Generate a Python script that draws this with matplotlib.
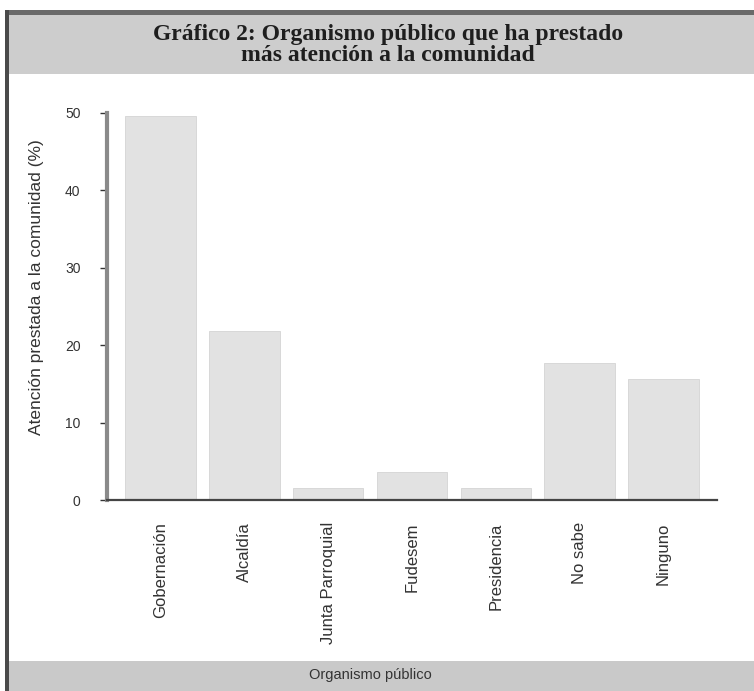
import matplotlib
matplotlib.use("Agg")
import matplotlib.pyplot as plt
from matplotlib.patches import Rectangle

categorias = ["Gobernación", "Alcaldía", "Junta Parroquial", "Fudesem",
              "Presidencia", "No sabe", "Ninguno"]
porcentajes = [49.6, 21.8, 1.5, 3.6, 1.5, 17.7, 15.6]
yticks = [0, 10, 20, 30, 40, 50]

W, H = 754, 691
fig = plt.figure(figsize=(W / 100, H / 100), dpi=100)
fig.patch.set_facecolor("white")


def px_rect(x0, y0, x1, y1, color):
    # rectángulo en píxeles (origen arriba a la izquierda)
    fig.patches.append(Rectangle((x0 / W, 1 - y1 / H), (x1 - x0) / W, (y1 - y0) / H,
                                 transform=fig.transFigure, facecolor=color,
                                 edgecolor="none", zorder=0))


# marco y bandas grises
px_rect(6, 15, W, 74, "#cdcdcd")
px_rect(6, 661, W, H, "#c9c9c9")
px_rect(5, 10, W, 15, "#6a6a6a")
px_rect(5, 10, 9, H, "#4a4a4a")

fig.text(388 / W, 1 - 45 / H,
         "Gráfico 2: Organismo público que ha prestado\nmás atención a la comunidad",
         ha="center", va="center", fontsize=17, fontweight="bold",
         family="Liberation Serif", color="#1e1e1e", linespacing=1.05)
fig.text(370 / W, 1 - 675 / H, "Organismo público", ha="center", va="center",
         fontsize=10.5, family="Liberation Sans", color="#333333")

ax = fig.add_axes([107 / W, 1 - 500 / H, 610 / W, 387 / H])
x = range(len(categorias))
ax.bar(x, porcentajes, width=0.84, color="#e2e2e2", edgecolor="#d4d4d4",
       linewidth=0.6, zorder=2)
ax.set_xlim(-0.64, len(categorias) - 1 + 0.64)
ax.set_ylim(0, 50)
ax.set_yticks(yticks)
ax.set_xticks(list(x))
ax.set_xticklabels(categorias, rotation=90, fontsize=12, family="Liberation Sans",
                   color="#333333")
for lbl in ax.get_yticklabels():
    lbl.set_family("Liberation Sans")
ax.tick_params(axis="y", labelsize=10, colors="#333333", length=5, width=1, pad=14)
ax.tick_params(axis="x", length=0, pad=16)
ax.set_ylabel("Atención prestada a la comunidad (%)", fontsize=12.5,
              family="Liberation Sans", color="#333333")
ax.yaxis.set_label_coords(-0.103, 0.55)
ax.spines["top"].set_visible(False)
ax.spines["right"].set_visible(False)
ax.spines["left"].set_color("#8a8a8a")
ax.spines["left"].set_linewidth(3)
ax.spines["bottom"].set_color("#444444")
ax.spines["bottom"].set_linewidth(1.6)

fig.savefig("out.png", dpi=100)
